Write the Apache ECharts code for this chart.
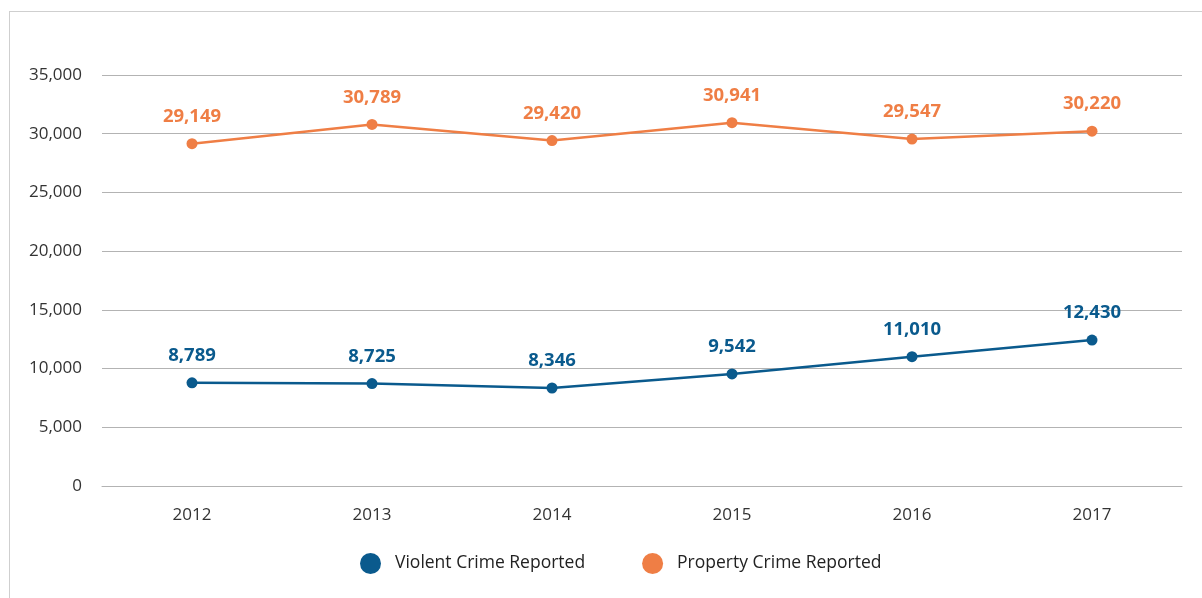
<!DOCTYPE html>
<html>
<head>
<meta charset="utf-8">
<script src="https://cdn.jsdelivr.net/npm/echarts@6/dist/echarts.min.js"></script>
<style>
  html, body { margin: 0; padding: 0; background: #fff; overflow: hidden; }
  .frame {
    position: absolute;
    left: 9px;
    top: 11px;
    width: 1300px;
    height: 700px;
    border: 1px solid #cfcfcf;
  }
  #chart { position: absolute; left: 0; top: 0; width: 1202px; height: 598px; }
</style>
</head>
<body>
<div class="frame"></div>
<div id="chart"></div>
<script>
const years = ['2012', '2013', '2014', '2015', '2016', '2017']
const violentCrime = [8789, 8725, 8346, 9542, 11010, 12430]
const propertyCrime = [29149, 30789, 29420, 30941, 29547, 30220]

const BLUE = '#0a5a8d'
const ORANGE = '#ef7e45'
const FONT = '"Open Sans", "Noto Sans", sans-serif'

const chart = echarts.init(document.getElementById('chart'))

const fmt = v => v.toLocaleString('en-US')

const lineSeries = (name, data, color) => ({
  name,
  type: 'line',
  data,
  symbol: 'circle',
  symbolSize: 11,
  lineStyle: { width: 2.5, color },
  itemStyle: { color },
  label: {
    show: true,
    position: 'top',
    distance: 12,
    formatter: p => fmt(p.value),
    color,
    fontFamily: FONT,
    fontSize: 18.5,
    fontWeight: 'bold',
  },
})

const option = {
  animation: false,
  grid: { left: 102, right: 20, top: 75, bottom: 112 },
  legend: {
    left: 355,
    bottom: 19,
    icon: 'circle',
    itemWidth: 21,
    itemHeight: 21,
    itemGap: 57,
    textStyle: { fontFamily: FONT, fontSize: 17.5, color: '#222', padding: [0, 0, 0, 9] },
    data: ['Violent Crime Reported', 'Property Crime Reported'],
  },
  xAxis: {
    type: 'category',
    data: years,
    axisLine: { show: true, lineStyle: { color: '#b3b3b3' } },
    axisTick: { show: false },
    axisLabel: { margin: 21, fontFamily: FONT, fontSize: 17, color: '#333' },
  },
  yAxis: {
    type: 'value',
    min: 0,
    max: 35000,
    interval: 5000,
    axisLine: { show: false },
    axisTick: { show: false },
    axisLabel: { margin: 20, fontFamily: FONT, fontSize: 17, color: '#333', formatter: v => fmt(v) },
    splitLine: { lineStyle: { color: '#b3b3b3', width: 1 } },
  },
  series: [
    lineSeries('Violent Crime Reported', violentCrime, BLUE),
    lineSeries('Property Crime Reported', propertyCrime, ORANGE),
  ],
}

chart.setOption(option)
</script>
</body>
</html>
